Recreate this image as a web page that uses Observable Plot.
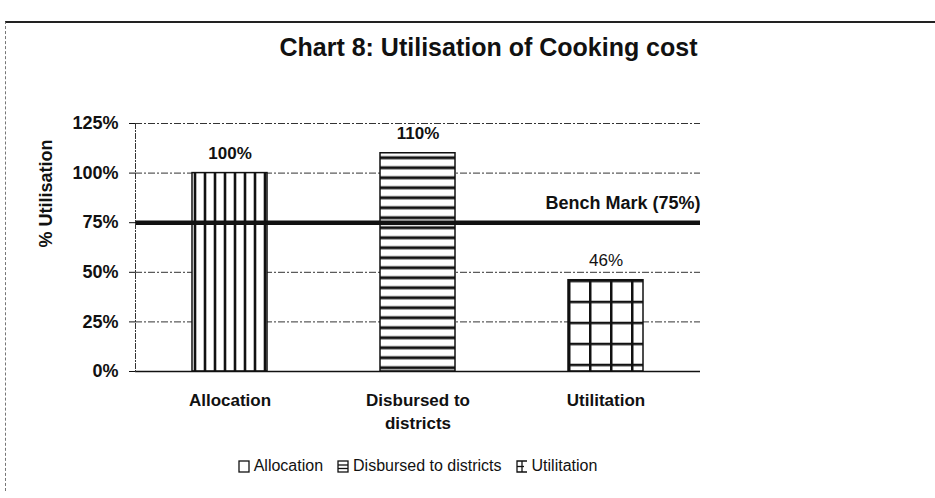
<!DOCTYPE html>
<html>
<head>
<meta charset="utf-8">
<script src="https://cdn.jsdelivr.net/npm/d3@7"></script>
<script src="https://cdn.jsdelivr.net/npm/@observablehq/plot@0.6"></script>
<style>
  html, body { margin: 0; padding: 0; background: #fff; }
  body { width: 935px; height: 498px; position: relative; overflow: hidden; font-family: "Liberation Sans", Arial, sans-serif; color: #111; }
  #border { position: absolute; left: 5px; top: 21px; width: 930px; height: 470px; border-top: 2px solid #222; border-left: 1px dashed #777; box-sizing: border-box; pointer-events: none; }
  #title { height: 80px; box-sizing: border-box; padding-top: 32px; padding-left: 42px; line-height: 30px; text-align: center; font-size: 25px; font-weight: bold; }
  #chart { height: 352px; }
  #legend { margin-top: 24px; line-height: 20px; text-align: center; padding-right: 100px; font-size: 16px; }
  #legend .item { display: inline-flex; align-items: center; margin: 0 7px; }
  #legend svg { margin-right: 4px; }
</style>
</head>
<body>
<div id="border"></div>
<div id="title">Chart 8: Utilisation of Cooking cost</div>
<div id="chart"></div>
<div id="legend"></div>
<script>
// ---- data ----
const categories = ["Allocation", "Disbursed to districts", "Utilitation"];
const values = [100, 110, 46];
const xLabels = ["Allocation", "Disbursed to\ndistricts", "Utilitation"];
const yTicks = [0, 25, 50, 75, 100, 125];
const benchmark = 75;
const yLabel = "% Utilisation";

const data = categories.map((c, i) => ({category: c, value: values[i]}));
const patternIds = ["url(#pat-vlines)", "url(#pat-hlines)", "url(#pat-grid)"];

const chart = Plot.plot({
  width: 935,
  height: 352,
  marginLeft: 135,
  marginRight: 235,
  marginTop: 43,
  marginBottom: 61,
  style: {fontFamily: "Liberation Sans, Arial, sans-serif", fontSize: "18px", fontWeight: "bold", color: "#111", background: "transparent"},
  x: {domain: categories, paddingInner: 0.6, paddingOuter: 0.3},
  y: {domain: [0, 125]},
  color: {domain: categories, range: patternIds},
  marks: [
    Plot.ruleY(yTicks.filter(d => d !== 0), {stroke: "#333", strokeWidth: 1, strokeDasharray: "7 2 2 2"}),
    Plot.barY(data, {x: "category", y: "value", fill: "category", stroke: "#111", strokeWidth: 1.5}),
    Plot.ruleY([benchmark], {stroke: "#111", strokeWidth: 4.5}),
    Plot.ruleY([0], {stroke: "#111", strokeWidth: 1.5}),
    Plot.frame({anchor: "left", stroke: "#333", strokeDasharray: "5 2 1 2"}),
    Plot.axisY({ticks: yTicks, tickFormat: d => d + "%", tickSize: 6, tickPadding: 11, fontSize: 18, fontWeight: "bold", label: null}),
    Plot.axisX({tickSize: 0, tickPadding: 18, tickFormat: d => xLabels[categories.indexOf(d)], fontSize: 17, fontWeight: "bold", lineHeight: 1.35, label: null}),
    Plot.text([yLabel], {frameAnchor: "left", dx: -89, rotate: -90, text: d => d, fontSize: 18, fontWeight: "bold"}),
    Plot.text(data.filter(d => d.value >= 100), {x: "category", y: "value", text: d => d.value + "%", dy: -20, fontSize: 17, fontWeight: "bold"}),
    Plot.text(data.filter(d => d.value < 100), {x: "category", y: "value", text: d => d.value + "%", dy: -20, fontSize: 17, fontWeight: "normal"}),
    Plot.text([benchmark], {y: d => d, frameAnchor: "right", textAnchor: "end", dy: -19, text: d => `Bench Mark (${d}%)`, fontSize: 18, fontWeight: "bold"})
  ]
});

// pattern definitions aligned to bars
const xs = chart.scale("x"), ys = chart.scale("y");
const bx = categories.map(c => xs.apply(c));
const by = values.map(v => ys.apply(v));
const defs = `
<defs>
  <pattern id="pat-vlines" patternUnits="userSpaceOnUse" x="${bx[0]}" y="0" width="10" height="10">
    <rect width="10" height="10" fill="#fff"/>
    <line x1="3" y1="0" x2="3" y2="10" stroke="#111" stroke-width="2.6"/>
  </pattern>
  <pattern id="pat-hlines" patternUnits="userSpaceOnUse" x="0" y="${by[1]}" width="10" height="10">
    <rect width="10" height="10" fill="#fff"/>
    <line x1="0" y1="5" x2="10" y2="5" stroke="#111" stroke-width="3"/>
  </pattern>
  <pattern id="pat-grid" patternUnits="userSpaceOnUse" x="${bx[2]}" y="${by[2]}" width="21" height="21">
    <rect width="21" height="21" fill="#fff"/>
    <line x1="1.2" y1="0" x2="1.2" y2="21" stroke="#111" stroke-width="2.6"/>
    <line x1="0" y1="1.2" x2="21" y2="1.2" stroke="#111" stroke-width="2.6"/>
  </pattern>
</defs>`;
chart.insertAdjacentHTML("afterbegin", defs);
document.getElementById("chart").appendChild(chart);

// legend
const swatches = [
  `<svg width="12" height="13"><rect x="1" y="1" width="10" height="11" fill="#fff" stroke="#111" stroke-width="1.3"/></svg>`,
  `<svg width="12" height="13"><rect x="1" y="1" width="10" height="11" fill="#fff" stroke="#111" stroke-width="1.3"/><line x1="1" y1="5" x2="11" y2="5" stroke="#111" stroke-width="1.3"/><line x1="1" y1="8.5" x2="11" y2="8.5" stroke="#111" stroke-width="1.3"/></svg>`,
  `<svg width="12" height="13"><path d="M11 1 H1 V12 H11" fill="#fff" stroke="#111" stroke-width="1.3"/><line x1="1" y1="6.5" x2="8" y2="6.5" stroke="#111" stroke-width="1.3"/><line x1="6" y1="1" x2="6" y2="12" stroke="#111" stroke-width="1.3"/></svg>`
];
document.getElementById("legend").innerHTML = categories.map((c, i) =>
  `<span class="item">${swatches[i]}${c}</span>`).join("");
</script>
</body>
</html>
